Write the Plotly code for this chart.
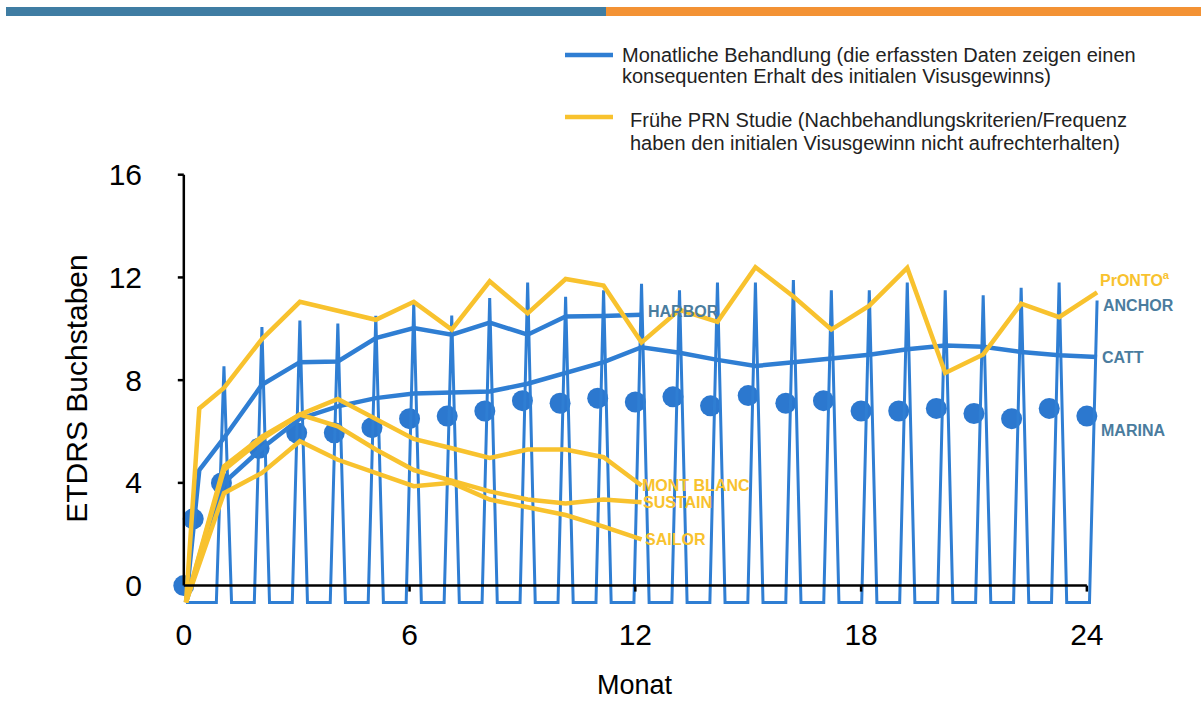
import plotly.graph_objects as go

# ---------------- data (ETDRS letters gained vs. month) ----------------
marina_months = [0, 0.25] + list(range(1, 25))
marina = [0, 2.6, 4.0, 5.35, 5.95, 5.95, 6.15, 6.5, 6.6, 6.8, 7.2, 7.1, 7.3,
          7.15, 7.35, 7.0, 7.4, 7.1, 7.2, 6.8, 6.8, 6.9, 6.7, 6.5, 6.9, 6.6]

anchor_months = list(range(1, 25))
anchor_peaks = [8.54, 10.07, 10.32, 10.2, 10.51, 11.0, 10.52, 11.2, 11.8, 11.25,
                11.5, 11.75, 11.5, 11.8, 11.8, 11.9, 11.5, 11.5, 11.8, 11.5,
                11.3, 11.6, 11.8, 11.1]
anchor_trough = -0.66

harbor_months = [0, 0.35] + list(range(1, 13))
harbor = [-0.65, 4.5, 5.75, 7.82, 8.7, 8.73, 9.64, 10.03, 9.77, 10.24, 9.77,
          10.48, 10.5, 10.55]

catt_months = list(range(0, 25))
catt = [-0.65, 4.0, 5.35, 6.5, 6.98, 7.3, 7.48, 7.52, 7.56, 7.86, 8.28, 8.7,
        9.28, 9.07, 8.79, 8.55, 8.7, 8.85, 8.99, 9.2, 9.35, 9.3, 9.1, 8.97, 8.9]

pronto_months = [0, 0.35] + list(range(1, 25))
pronto = [-0.65, 6.9, 7.7, 9.6, 11.05, 10.7, 10.35, 11.05, 9.97, 11.85, 10.6,
          11.94, 11.68, 9.47, 10.74, 10.27, 12.4, 11.26, 9.97, 10.9, 12.37,
          8.28, 9.0, 10.98, 10.45, 11.42]

prn_months = list(range(0, 13))
mont_blanc = [-0.65, 4.64, 5.8, 6.66, 7.27, 6.5, 5.71, 5.35, 4.97, 5.3, 5.3, 5.0, 3.9]
sustain = [-0.65, 4.5, 5.7, 6.66, 6.2, 5.3, 4.5, 4.1, 3.67, 3.35, 3.2, 3.35, 3.25]
sailor = [-0.65, 3.6, 4.39, 5.62, 4.9, 4.4, 3.87, 4.0, 3.35, 3.05, 2.75, 2.3, 1.8]

x_ticks = [0, 6, 12, 18, 24]
y_ticks = [0, 4, 8, 12, 16]

legend_monthly = ["Monatliche Behandlung (die erfassten Daten zeigen einen",
                  "konsequenten Erhalt des initialen Visusgewinns)"]
legend_prn = ["Frühe PRN Studie (Nachbehandlungskriterien/Frequenz",
              "haben den initialen Visusgewinn nicht aufrechterhalten)"]

# ---------------- styling ----------------
BLUE = "#2F7ED3"
BLUE_DOT = "#2C78CF"
YELLOW = "#F8C22E"
LABEL_BLUE = "#4A7C9E"
FONT = "Liberation Sans, Arial, sans-serif"

W, H = 1201, 703
ML, MR, MT, MB = 165, 69, 167, 93
PW, PH = W - ML - MR, H - MT - MB


def paper_x(px):
    return (px - ML) / PW


def paper_y(py):
    return (H - MB - py) / PH


# ANCHOR monthly values are drawn as narrow spikes rising from a common trough
half = 0.2
spike_x, spike_y = [0], [anchor_trough]
for m, v in zip(anchor_months, anchor_peaks):
    spike_x += [m - half, m, m + half]
    spike_y += [anchor_trough, v, anchor_trough]
spike_x, spike_y = spike_x[:-1], spike_y[:-1]

fig = go.Figure()

fig.add_trace(go.Scatter(x=spike_x, y=spike_y, mode="lines", name="ANCHOR",
                         line=dict(color=BLUE, width=3), xaxis="x2",
                         showlegend=False, hoverinfo="skip"))

for name, xs, ys in [("HARBOR", harbor_months, harbor),
                     ("CATT", catt_months, catt)]:
    fig.add_trace(go.Scatter(x=xs, y=ys, mode="lines", name=name, xaxis="x2",
                             line=dict(color=BLUE, width=4.5),
                             showlegend=False))

for name, xs, ys in [("PrONTO", pronto_months, pronto),
                     ("MONT BLANC", prn_months, mont_blanc),
                     ("SUSTAIN", prn_months, sustain),
                     ("SAILOR", prn_months, sailor)]:
    fig.add_trace(go.Scatter(x=xs, y=ys, mode="lines", name=name, xaxis="x2",
                             line=dict(color=YELLOW, width=4.5),
                             showlegend=False))

fig.add_trace(go.Scatter(x=marina_months, y=marina, mode="markers",
                         name="MARINA", showlegend=False,
                         marker=dict(color=BLUE_DOT, size=21,
                                     line=dict(width=0))))

# ---------------- series labels ----------------
def series_label(text, x, y, color, xref="x2", xshift=4, yshift=0):
    fig.add_annotation(text=f"<b>{text}</b>", x=x, y=y, xref=xref, yref="y",
                       xanchor="left", yanchor="middle", showarrow=False,
                       xshift=xshift, yshift=yshift,
                       font=dict(family=FONT, size=16, color=color))


series_label("HARBOR", harbor_months[-1], harbor[-1], LABEL_BLUE, yshift=3)
series_label("ANCHOR", anchor_months[-1], anchor_peaks[-1], LABEL_BLUE, yshift=-5)
series_label("CATT", catt_months[-1], catt[-1], LABEL_BLUE, xshift=3)
series_label("MARINA", marina_months[-1], marina[-1], LABEL_BLUE, xref="x",
             xshift=12, yshift=-14)
series_label("PrONTO<sup>a</sup>", pronto_months[-1], pronto[-1], YELLOW,
             xshift=1, yshift=13)
series_label("MONT BLANC", prn_months[-1], mont_blanc[-1], YELLOW, xshift=-2)
series_label("SUSTAIN", prn_months[-1], sustain[-1], YELLOW, xshift=-1)
series_label("SAILOR", prn_months[-1], sailor[-1], YELLOW, xshift=1)

# x-axis title, centred under the 0-24 month span
fig.add_annotation(text="Monat", x=12, xref="x", y=paper_y(685), yref="paper",
                   xanchor="center", yanchor="middle", showarrow=False,
                   font=dict(family=FONT, size=27, color="black"))

# ---------------- axis lines and tick marks ----------------
shapes = [
    dict(type="line", xref="x", yref="y", x0=0, x1=0, y0=0, y1=16,
         line=dict(color="black", width=2.5), layer="above"),
    dict(type="line", xref="x", yref="y", x0=0, x1=24, y0=0, y1=0,
         line=dict(color="black", width=2.5), layer="above"),
]
for v in y_ticks[1:]:
    shapes.append(dict(type="line", xref="x", yref="y", xsizemode="pixel",
                       xanchor=0, x0=-6, x1=0, y0=v, y1=v,
                       line=dict(color="black", width=2.5), layer="above"))
for v in x_ticks[1:]:
    shapes.append(dict(type="line", xref="x", yref="y", ysizemode="pixel",
                       yanchor=0, y0=-6, y1=0, x0=v, x1=v,
                       line=dict(color="black", width=2.5), layer="above"))

# header bar
shapes.append(dict(type="rect", xref="paper", yref="paper",
                   x0=paper_x(6), x1=paper_x(606), y0=paper_y(16), y1=paper_y(7),
                   fillcolor="#3F7DA3", line=dict(width=0)))
shapes.append(dict(type="rect", xref="paper", yref="paper",
                   x0=paper_x(606), x1=paper_x(1201), y0=paper_y(16), y1=paper_y(7),
                   fillcolor="#F39234", line=dict(width=0)))

# legend keys
for color, py in [(BLUE, 55), (YELLOW, 117)]:
    shapes.append(dict(type="line", xref="paper", yref="paper",
                       x0=paper_x(565), x1=paper_x(613), y0=paper_y(py), y1=paper_y(py),
                       line=dict(color=color, width=4.5)))

for lines, px, pys in [(legend_monthly, 620, (55, 76)),
                       (legend_prn, 628, (120, 143))]:
    for text, py in zip(lines, pys):
        fig.add_annotation(text=text, xref="paper", yref="paper",
                           x=paper_x(px), y=paper_y(py), xanchor="left",
                           yanchor="middle", showarrow=False,
                           font=dict(family=FONT, size=20, color="#222222"))

fig.update_layout(
    width=W, height=H,
    margin=dict(l=ML, r=MR, t=MT, b=MB, autoexpand=False),
    paper_bgcolor="white", plot_bgcolor="white",
    shapes=shapes,
    showlegend=False,
    xaxis=dict(range=[-0.5, 25.2], tickvals=x_ticks,
               ticktext=[str(v) for v in x_ticks],
               showline=False, showgrid=False, zeroline=False, ticks="",
               ticklabelstandoff=4,
               tickfont=dict(family=FONT, size=30, color="black")),
    xaxis2=dict(overlaying="x", range=[-0.553, 24.92], visible=False),
    yaxis=dict(range=[-0.95, 16.3], tickvals=y_ticks,
               ticktext=[str(v) for v in y_ticks],
               showline=False, showgrid=False, zeroline=False, ticks="",
               ticklabelstandoff=22,
               tickfont=dict(family=FONT, size=30, color="black"),
               title=dict(text="ETDRS Buchstaben", standoff=12,
                          font=dict(family=FONT, size=30, color="black"))),
)

fig.write_html("out.html")
